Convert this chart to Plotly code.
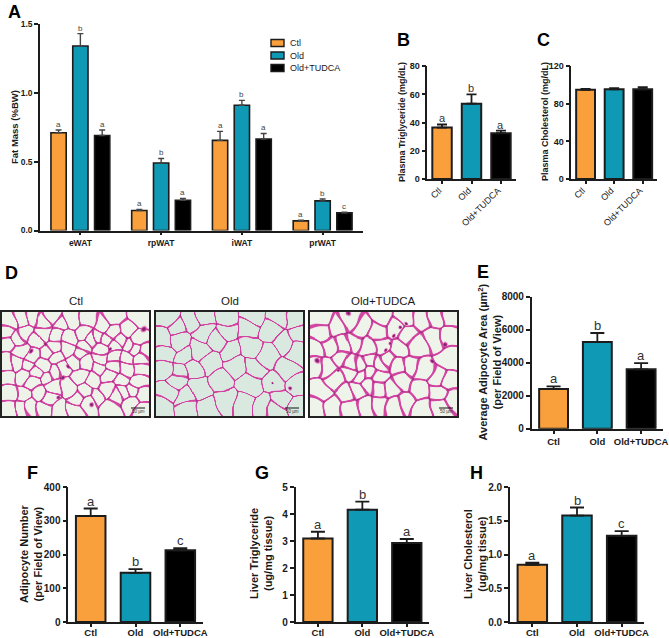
import numpy as np
import plotly.graph_objects as go

W, H = 669, 638
FONT = "Liberation Sans"
ORANGE, TEAL, BLACK = "#F9A03C", "#0F99B4", "#000000"
EDGE = "#1c1c1c"
GROUP_COLORS = [ORANGE, TEAL, BLACK]
GROUPS = ["Ctl", "Old", "Old+TUDCA"]

# Panel A
a_depots = ["eWAT", "rpWAT", "iWAT", "prWAT"]
a_ctl = [0.71, 0.145, 0.655, 0.07]
a_ctl_err = [0.02, 0.008, 0.065, 0.005]
a_old = [1.34, 0.49, 0.91, 0.215]
a_old_err = [0.09, 0.033, 0.035, 0.014]
a_tudca = [0.69, 0.22, 0.665, 0.128]
a_tudca_err = [0.04, 0.013, 0.04, 0.005]
a_letters = [["a", "a", "a", "a"], ["b", "b", "b", "b"], ["a", "a", "a", "c"]]

# Panels B, C, E, F, G, H
b_vals, b_err, b_letters = [36.5, 53.5, 32.5], [2.2, 6.5, 1.8], ["a", "b", "a"]
c_vals, c_err = [95, 95.5, 95.5], [1.0, 1.2, 2.2]
e_vals, e_err, e_letters = [2400, 5250, 3600], [170, 550, 370], ["a", "b", "a"]
f_vals, f_err, f_letters = [315, 146, 213], [22, 11, 6], ["a", "b", "c"]
g_vals, g_err, g_letters = [3.1, 4.17, 2.93], [0.25, 0.3, 0.15], ["a", "b", "a"]
h_vals, h_err, h_letters = [0.85, 1.58, 1.28], [0.03, 0.12, 0.07], ["a", "b", "c"]

# Panel D: approximate cell centres of the micrographs
d_ctl_cells = [(30,42),(20,75),(65,35),(75,75),(110,100),(100,30),(128,42),(155,28),(178,52),(215,35),(210,88),(170,80),
    (262,40),(250,75),(303,55),(295,85),(345,30),(340,75),(378,65),(420,30),(415,95),(385,110),(432,130),
    (25,105),(60,125),(100,145),(160,115),(200,125),(250,115),(300,120),(340,115),(380,145),(420,150),
    (20,165),(50,165),(85,175),(130,170),(170,150),(225,155),(260,165),(295,180),(340,175),(375,185),(420,185),
    (25,210),(70,200),(100,225),(140,205),(205,240),(240,205),(280,215),(325,200),(365,215),(415,220),
    (30,255),(70,260),(115,255),(160,235),(255,250),(320,245),(370,250),(420,260),
    (30,300),(65,295),(90,290),(135,295),(175,305),(225,300),(265,285),(330,290),(395,280),(425,305),
    (140,130),(130,75),(240,135),(275,95),(320,95),(360,95),(55,90),(185,180),(105,195),(160,190),
    (300,150),(345,145),(400,120),(395,245),(345,265),(290,265),(230,270),(145,270)]
d_old_cells = [(45,28),(70,55),(110,40),(150,70),(150,30),(215,30),(215,70),(285,62),(350,65),
    (30,95),(75,100),(135,125),(190,95),(230,125),(285,115),(340,145),(390,100),(430,75),(420,40),(370,30),(300,25),
    (35,135),(90,145),(170,165),(245,175),(300,180),(395,185),(430,130),(30,185),(80,190),(115,185),
    (135,235),(200,215),(285,225),(365,225),(425,235),(45,250),(90,265),(215,275),(270,290),(325,295),(380,270),
    (430,290),(25,295),(100,300),(155,305),(360,305),(70,215)]
d_tudca_cells = [(45,75),(85,55),(40,30),(125,35),(160,60),(210,70),(260,60),(225,25),(290,30),(340,35),(380,30),(425,30),
    (300,75),(330,110),(375,90),(420,80),(140,105),(65,115),(25,125),(105,115),(175,120),(225,115),(265,125),(425,155),
    (20,170),(60,175),(100,150),(130,165),(155,170),(185,160),(215,165),(240,150),(270,175),(305,175),(345,190),(385,210),(425,220),
    (40,250),(85,215),(125,195),(155,205),(185,195),(210,205),(280,215),(335,245),(390,250),(430,270),
    (20,295),(110,255),(150,240),(180,230),(210,240),(250,240),(295,280),(215,285),(170,295),(75,290),(130,300),(255,295),(340,300),(395,295)]
d_ctl_spots = [(430,65,10),(275,292,7),(205,175,7),(90,130,7),(190,212,7),(135,105,7),(325,125,6),(170,270,6)]
d_old_spots = [(408,238,6),(355,228,4)]
d_tudca_spots = [(230,125,6),(245,105,6),(258,85,6),(272,62,6),(290,45,6),(125,18,8),(375,160,7),(30,160,8),(90,190,5),(410,110,8)]


def rect(x0, x1, y0, y1):
    return dict(x=[x0 / W, x1 / W], y=[1 - y1 / H, 1 - y0 / H])


fig = go.Figure()
layout = dict(template="none", width=W, height=H, margin=dict(l=0, r=0, t=0, b=0, pad=0, autoexpand=False),
              paper_bgcolor="white", plot_bgcolor="white", showlegend=False, barmode="group",
              font=dict(family=FONT, color="#1a1a1a"))
annos, shapes = [], []


def text(x, y, s, size, weight=400, angle=0, color="#1a1a1a", anchor="center"):
    annos.append(dict(x=x / W, y=1 - y / H, xref="paper", yref="paper", text=s, showarrow=False, align="center",
                      font=dict(family=FONT, size=size, weight=weight, color=color), textangle=angle,
                      xanchor=anchor, yanchor="middle"))


def axes(n, box, yrange, ytick, xlabels, xfont, yfont, xangle=0, lw=1.6, yfmt=None, standoff=0, shift=0):
    sfx = str(n)
    common = dict(showgrid=False, zeroline=False, showline=True, linecolor=EDGE, linewidth=lw,
                  ticks="outside", tickcolor=EDGE, tickwidth=lw, automargin=False)
    x = dict(common, domain=rect(*box)["x"], anchor="y" + sfx, type="category", range=[-0.5, len(xlabels) - 0.5],
             categoryorder="array", categoryarray=xlabels, tickangle=xangle, ticklen=3,
             ticklabelstandoff=standoff, ticklabelshift=shift, tickfont=dict(family=FONT, **xfont))
    y = dict(common, domain=rect(*box)["y"], anchor="x" + sfx, range=yrange, dtick=ytick, ticklen=4,
             tickfont=dict(family=FONT, **yfont))
    if yfmt:
        y["tickformat"] = yfmt
    layout["xaxis" + sfx] = x
    layout["yaxis" + sfx] = y


def single(n, box, yrange, ytick, vals, err, letters, xfont, yfont, xangle=0, cap=7, letter=13, ewidth=1.8, yfmt=None,
           standoff=0, shift=0):
    axes(n, box, yrange, ytick, GROUPS, xfont, yfont, xangle, yfmt=yfmt, standoff=standoff, shift=shift)
    fig.add_trace(go.Bar(x=GROUPS, y=vals, marker=dict(color=GROUP_COLORS, line=dict(color=EDGE, width=2)),
                         width=0.66, xaxis="x%d" % n, yaxis="y%d" % n,
                         error_y=dict(type="data", array=err, arrayminus=[0] * 3, symmetric=False,
                                      color=EDGE, thickness=ewidth, width=cap)))
    for i, l in enumerate(letters or []):
        annos.append(dict(x=i, y=vals[i] + err[i], xref="x%d" % n, yref="y%d" % n, text=l, showarrow=False,
                          yanchor="bottom", yshift=-2, font=dict(family=FONT, size=letter, color="#333333")))


# Panel A
axes(1, (40, 363, 24, 230.5), [0, 1.5], 0.5, a_depots, dict(size=8.5, weight=700), dict(size=8.5, weight=700), yfmt=".1f")
layout["bargap"] = 0.19
layout["bargroupgap"] = 0.3
for j, (vals, err) in enumerate([(a_ctl, a_ctl_err), (a_old, a_old_err), (a_tudca, a_tudca_err)]):
    fig.add_trace(go.Bar(name=GROUPS[j], x=a_depots, y=vals, xaxis="x1", yaxis="y1", offsetgroup=str(j),
                         marker=dict(color=GROUP_COLORS[j], line=dict(color=EDGE, width=1.6)),
                         error_y=dict(type="data", array=err, arrayminus=[0] * 4, symmetric=False,
                                      color="#444444", thickness=1.4, width=3)))
    for i, l in enumerate(a_letters[j]):
        annos.append(dict(x=i + (j - 1) * 0.27, y=vals[i] + err[i], xref="x1", yref="y1", text=l, showarrow=False,
                          yanchor="bottom", yshift=-1, font=dict(family=FONT, size=8, color="#444444")))
text(15, 127, "Fat Mass (%BW)", 9.5, 700, -90)

# Legend of panel A
for j, ly in enumerate([43, 55.5, 68]):
    shapes.append(dict(type="rect", xref="paper", yref="paper", x0=271 / W, x1=284 / W, y0=1 - (ly + 3.5) / H,
                       y1=1 - (ly - 3.5) / H, fillcolor=GROUP_COLORS[j], line=dict(color=EDGE, width=1.4)))
    text(288, ly, GROUPS[j], 9, anchor="left")

# Panels B, C
f_rot = dict(size=9, weight=400)
f_y = dict(size=9, weight=700)
single(2, (427.3, 515.7, 66.3, 179), [0, 80], 20, b_vals, b_err, b_letters, f_rot, f_y, -45, cap=5, letter=11,
       standoff=-2, shift=-3)
text(402, 122, "Plasma Triglyceride (mg/dL)", 9, 700, -90)
single(3, (571.3, 657, 66.3, 179), [0, 120], 40, c_vals, c_err, None, f_rot, f_y, -45, cap=5, standoff=-2, shift=-3)
text(545, 122, "Plasma Cholesterol (mg/dL)", 9, 700, -90)

# Panels E-H
f_x = dict(size=9.5, weight=700)
f_yb = dict(size=10, weight=700)
single(4, (531.7, 663, 296.7, 428.7), [0, 8000], 2000, e_vals, e_err, e_letters, f_x, f_yb)
text(489.5, 362, "Average Adipocyte Area (µm<sup>2</sup>)<br>(per Field of View)", 11, 700, -90)
single(5, (68.3, 202.7, 487.3, 622), [0, 400], 100, f_vals, f_err, f_letters, f_x, f_yb, standoff=-2)
text(31, 554, "Adipocyte Number<br>(per Field of View)", 11, 700, -90)
single(6, (295.7, 429, 487.3, 622), [0, 5], 1, g_vals, g_err, g_letters, f_x, f_yb, standoff=-2)
text(261, 554, "Liver Triglyceride<br>(ug/mg tissue)", 11, 700, -90)
single(7, (510, 644, 487.3, 622), [0, 2], 0.5, h_vals, h_err, h_letters, f_x, f_yb, yfmt=".1f", standoff=-2)
text(475, 554, "Liver Cholesterol<br>(ug/mg tissue)", 11, 700, -90)


# Panel D: micrographs built from the cell centres
def smooth(v, a, b):
    t = np.clip((v - a) / (b - a), 0, 1)
    return t * t * (3 - 2 * t)


def micrograph(cells, spots, wall):
    xs = np.linspace(6, 447, 294)
    ys = np.linspace(12, 324, 208)
    X, Y = np.meshgrid(xs, ys)
    # gentle wobble so that cell walls are not ruler-straight
    WX = X + 3.0 * np.sin(Y / 11.0) + 2.0 * np.sin((X + Y) / 19.0)
    WY = Y + 3.0 * np.sin(X / 13.0) + 2.0 * np.cos((X - Y) / 17.0)
    c = np.array(cells, dtype=float)
    d = np.sqrt((WX[..., None] - c[:, 0]) ** 2 + (WY[..., None] - c[:, 1]) ** 2)
    d.sort(axis=2)
    edge = 1 - smooth(d[..., 1] - d[..., 0], wall * 0.5, wall * 1.4)
    node = 1 - smooth(d[..., 2] - d[..., 0], wall * 0.4, wall * 1.6)
    z = np.maximum(0.55 * edge, 0.72 * node)
    for sx, sy, r in spots:
        z = np.maximum(z, 0.85 * (1 - smooth(np.hypot(WX - sx, WY - sy), r * 0.2, r * 1.4)))
    return xs, ys, z


panels = [(8, (2, 149), d_ctl_cells, d_ctl_spots, "#EEF3EA", 5.0, "Ctl", "50 µm"),
          (9, (156, 303), d_old_cells, d_old_spots, "#D9E9DF", 4.0, "Old", "50 µm"),
          (10, (310, 457), d_tudca_cells, d_tudca_spots, "#EEF4EA", 6.5, "Old+TUDCA", "50 µm")]
for n, (x0, x1), cells, spots, bg, wall, title, bar in panels:
    xs, ys, z = micrograph(cells, spots, wall)
    sfx = str(n)
    scale = [[0, bg], [0.3, "#E8A3CF"], [0.55, "#D0459F"], [0.8, "#8E2A78"], [1, "#3A1640"]]
    fig.add_trace(go.Heatmap(x=xs, y=ys, z=z, colorscale=scale, zmin=0, zmax=1, showscale=False, hoverinfo="skip",
                             xaxis="x" + sfx, yaxis="y" + sfx))
    box = rect(x0, x1, 312, 416)
    frame = dict(showticklabels=False, ticks="", showgrid=False, zeroline=False, showline=True, mirror=True,
                 linecolor="#222222", linewidth=2, automargin=False)
    layout["xaxis" + sfx] = dict(frame, domain=box["x"], range=[6, 447], anchor="y" + sfx)
    layout["yaxis" + sfx] = dict(frame, domain=box["y"], range=[324, 12], anchor="x" + sfx)
    text((x0 + x1) / 2, 301, title, 11.5)
    shapes.append(dict(type="line", xref="paper", yref="paper", x0=(x1 - 18) / W, x1=(x1 - 4) / W,
                       y0=1 - 408 / H, y1=1 - 408 / H, line=dict(color="#111111", width=1)))
    text(x1 - 11, 411.5, bar, 4.5, color="#333333")

# Panel letters
for s, x, y in [("A", 14, 12), ("B", 403, 40), ("C", 543, 40), ("D", 11, 273), ("E", 483, 272),
                ("F", 32, 473), ("G", 262, 473), ("H", 476, 473)]:
    text(x, y, s, 18, 700, color="#000000")

layout["annotations"] = annos
layout["shapes"] = shapes
fig.update_layout(**layout)
fig.write_html("out.html", config=dict(displayModeBar=False),
               post_script="document.body.style.margin='0';document.body.style.overflow='hidden';")
